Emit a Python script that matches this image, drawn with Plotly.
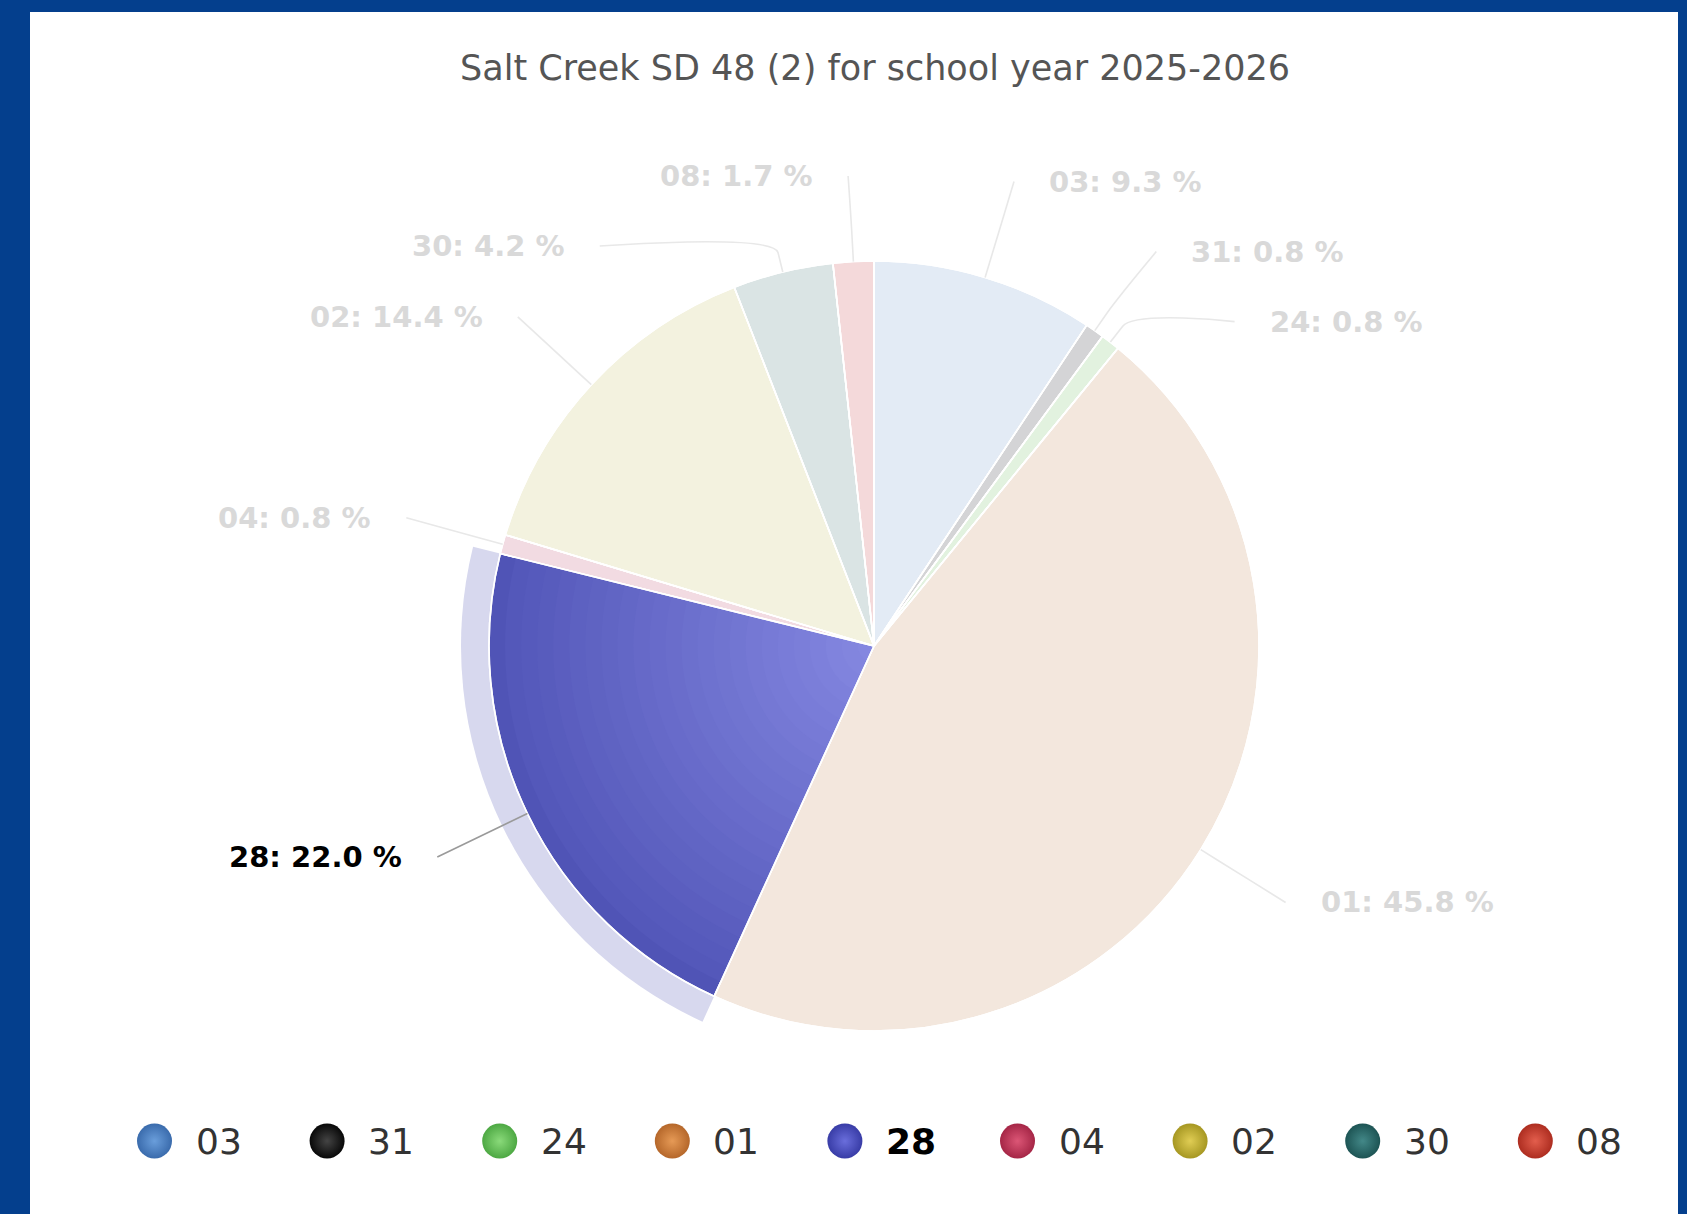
import math
import plotly.graph_objects as go

# Share of students by resident district code, school year 2025-2026
codes = ["03", "31", "24", "01", "28", "04", "02", "30", "08"]
shares = [9.3, 0.8, 0.8, 45.8, 22.0, 0.8, 14.4, 4.2, 1.7]
highlight = "28"
title_text = "Salt Creek SD 48 (2) for school year 2025-2026"

# ---- styling -------------------------------------------------------------
W, H = 1687, 1214
CX, CY, R = 874, 646, 385          # pie centre and radius in pixels
HALO = 28                          # width of the hover halo ring
LABEL_DIST = 100                   # label circle distance beyond the pie
SLOT = 70                          # minimum vertical spacing of labels
LABEL_TOP = 176                    # highest allowed label centre
GAP = 33                           # space between connector end and text
FONT = "DejaVu Sans"

# dimmed slice fills (inactive state) and the active slice gradient
slice_fill = {
    "03": "#E3EBF5", "31": "#D4D4D6", "24": "#E2F2DF", "01": "#F3E7DD",
    "28": "#5054B6", "04": "#F2DBE2", "02": "#F3F2DF", "30": "#DAE4E4",
    "08": "#F4D9DA",
}
grad_outer, grad_inner = (0x52, 0x56, 0xB8), (0x86, 0x89, 0xE2)
halo_color = "#D7D8EE"

# legend ball colours: (centre, rim)
legend_ball = {
    "03": ("#6A9EDB", "#3A6BAC"), "31": ("#444444", "#080808"),
    "24": ("#8ADA7A", "#4DA843"), "01": ("#E69A56", "#B5672A"),
    "28": ("#6A6EDC", "#383CA6"), "04": ("#DC5676", "#A52646"),
    "02": ("#E0CD54", "#A69722"), "30": ("#438888", "#1D5454"),
    "08": ("#E35E4D", "#AD2D20"),
}
LEG_X0, LEG_DX, LEG_Y = 154.5, 172.6, 1141


def domain(radius):
    return dict(x=[(CX - radius) / W, (CX + radius) / W],
                y=[1 - (CY + radius) / H, 1 - (CY - radius) / H])


def mix(a, b, t):
    return "#%02X%02X%02X" % tuple(round(a[i] + (b[i] - a[i]) * t) for i in range(3))


def pie(radius, colors, line_color="rgba(0,0,0,0)", line_width=0):
    return go.Pie(values=shares, labels=codes, sort=False, direction="clockwise",
                  rotation=0, textinfo="none", hoverinfo="skip", showlegend=False,
                  domain=domain(radius),
                  marker=dict(colors=colors, line=dict(color=line_color, width=line_width)))


clear = "rgba(0,0,0,0)"
only_hi = lambda c: [c if k == highlight else clear for k in codes]

fig = go.Figure()

# hover halo behind the active slice
fig.add_trace(pie(R + HALO, only_hi(halo_color)))
# main pie
fig.add_trace(pie(R, [slice_fill[k] for k in codes], "#FFFFFF", 1.6))
# radial shading of the active slice: concentric layers, darker outside
N = 24
for i in range(1, N):
    t = i / N
    fig.add_trace(pie(R * (1 - t), only_hi(mix(grad_outer, grad_inner, t))))
# redraw slice separators on top of the shading
fig.add_trace(pie(R, [clear] * len(codes), "#FFFFFF", 1.6))

# legend balls (radial gradient: marker colour at the rim, gradient colour in the centre)
fig.add_trace(go.Scatter(
    x=[LEG_X0 + i * LEG_DX for i in range(len(codes))],
    y=[LEG_Y] * len(codes), mode="markers", hoverinfo="skip", showlegend=False,
    marker=dict(size=35, color=[legend_ball[k][1] for k in codes],
                gradient=dict(type="radial", color=[legend_ball[k][0] for k in codes]),
                line=dict(width=0)),
))

annotations = [dict(x=875, y=68, xref="x", yref="y", text=title_text, showarrow=False,
                    xanchor="center", yanchor="middle",
                    font=dict(family=FONT, size=35, color="#555555"))]
for i, k in enumerate(codes):
    hi = k == highlight
    annotations.append(dict(
        x=LEG_X0 + i * LEG_DX + 39, y=LEG_Y, xref="x", yref="y", showarrow=False,
        text=f"<b>{k}</b>" if hi else k, xanchor="left", yanchor="middle",
        font=dict(family=FONT, size=36, color="#000000" if hi else "#333333")))

# ---- data labels with soft connectors -----------------------------------
total = sum(shares)
RL = R + LABEL_DIST
items = []
cum = 0.0
for k, v in zip(codes, shares):
    mid = math.radians((cum + v / 2) / total * 360)
    cum += v
    items.append(dict(code=k, value=v, ang=mid, right=math.sin(mid) >= 0,
                      natural=CY - RL * math.cos(mid)))

shapes = [dict(type="rect", xref="x", yref="y", x0=30, x1=1678, y0=12, y1=H,
               fillcolor="#FFFFFF", line=dict(width=0), layer="below")]

for side in (True, False):
    group = sorted([it for it in items if it["right"] == side], key=lambda it: it["natural"])
    prev = None
    for it in group:
        y = max(it["natural"], LABEL_TOP if prev is None else prev + SLOT)
        clamped_top = prev is None and y > it["natural"]
        prev = y
        yx = it["natural"] if clamped_top else y
        dx = math.sqrt(max(RL ** 2 - (yx - CY) ** 2, 0))
        sgn = 1 if side else -1
        ex = CX + sgn * dx
        tx, ty = CX + R * math.sin(it["ang"]), CY - R * math.cos(it["ang"])
        bo = R + LABEL_DIST / 5
        bx, by = CX + bo * math.sin(it["ang"]), CY - bo * math.cos(it["ang"])
        hi = it["code"] == highlight
        shapes.append(dict(
            type="path", xref="x", yref="y", layer="above",
            path=f"M {ex:.1f},{y:.1f} C {ex:.1f},{y:.1f} {2*bx-tx:.1f},{2*by-ty:.1f} "
                 f"{bx:.1f},{by:.1f} L {tx:.1f},{ty:.1f}",
            line=dict(color="#9A9A9A" if hi else "#E8E8E8", width=1.6)))
        annotations.append(dict(
            x=ex + sgn * GAP, y=y, xref="x", yref="y", showarrow=False,
            xanchor="left" if side else "right", yanchor="middle",
            text=f"<b>{it['code']}: {it['value']:.1f} %</b>",
            font=dict(family=FONT, size=29, color="#000000" if hi else "#D9D9D9")))

fig.update_layout(
    width=W, height=H, autosize=False,
    margin=dict(l=0, r=0, t=0, b=0),
    paper_bgcolor="#043F8D", plot_bgcolor="rgba(0,0,0,0)",
    xaxis=dict(range=[0, W], visible=False, fixedrange=True),
    yaxis=dict(range=[H, 0], visible=False, fixedrange=True),
    shapes=shapes, annotations=annotations, showlegend=False,
)

fig.write_html("out.html")
